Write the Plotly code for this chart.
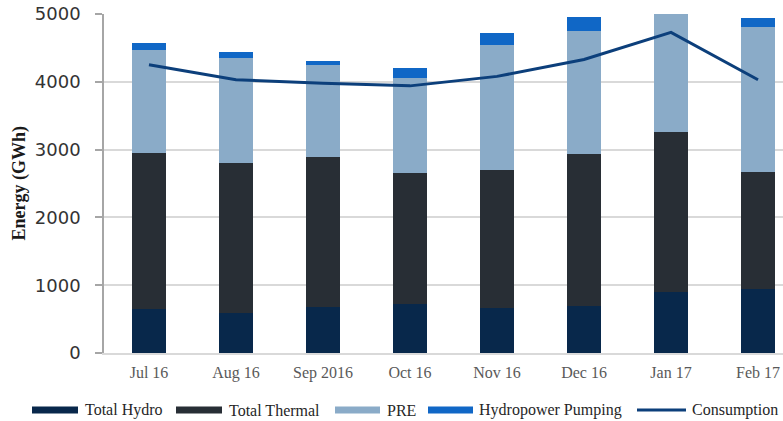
import plotly.graph_objects as go

categories = ["Jul 16", "Aug 16", "Sep 2016", "Oct 16", "Nov 16", "Dec 16", "Jan 17", "Feb 17"]
total_hydro = [650, 590, 680, 720, 660, 690, 900, 945]
total_thermal = [2300, 2210, 2210, 1930, 2040, 2245, 2360, 1725]
pre = [1520, 1550, 1360, 1400, 1840, 1815, 2000, 2140]
hydro_pumping = [100, 90, 50, 160, 180, 205, 150, 130]
consumption = [4250, 4030, 3980, 3940, 4080, 4330, 4730, 4030]
y_ticks = [0, 1000, 2000, 3000, 4000, 5000]

colors = {
    "Total Hydro": "#08284b",
    "Total Thermal": "#282e35",
    "PRE": "#8aabc8",
    "Hydropower Pumping": "#1067c6",
    "Consumption": "#0c3f7b",
}

W, H = 783, 421
ML, MR, MT, MB = 104, 0, 14, 68
PW = W - ML - MR
PH = H - MT - MB

fig = go.Figure()
x = list(range(len(categories)))
for name, vals in [("Total Hydro", total_hydro), ("Total Thermal", total_thermal),
                   ("PRE", pre), ("Hydropower Pumping", hydro_pumping)]:
    fig.add_trace(go.Bar(x=x, y=vals, name=name, width=0.39,
                         marker=dict(color=colors[name], line=dict(width=0)),
                         showlegend=False))
fig.add_trace(go.Scatter(x=x, y=consumption, name="Consumption", mode="lines",
                         line=dict(color=colors["Consumption"], width=3),
                         showlegend=False))

# custom legend
def px2paper_x(px):
    return (px - ML) / PW

def px2paper_y(py):
    return (MT + PH - py) / PH

legend_items = [
    ("Total Hydro", 32, 78, 83, "bar"),
    ("Total Thermal", 176, 222, 227, "bar"),
    ("PRE", 335, 380, 385, "bar"),
    ("Hydropower Pumping", 428, 473, 477, "bar"),
    ("Consumption", 637, 686, 690, "line"),
]
shapes = []
annotations = []
ly = 410
for name, x0, x1, tx, kind in legend_items:
    if kind == "bar":
        shapes.append(dict(type="rect", xref="paper", yref="paper",
                           x0=px2paper_x(x0), x1=px2paper_x(x1),
                           y0=px2paper_y(ly + 3.5), y1=px2paper_y(ly - 3.5),
                           fillcolor=colors[name], line=dict(width=0)))
    else:
        shapes.append(dict(type="line", xref="paper", yref="paper",
                           x0=px2paper_x(x0), x1=px2paper_x(x1),
                           y0=px2paper_y(ly), y1=px2paper_y(ly),
                           line=dict(color=colors[name], width=3)))
    annotations.append(dict(text=name, xref="paper", yref="paper",
                            x=px2paper_x(tx), y=px2paper_y(ly),
                            xanchor="left", yanchor="middle", showarrow=False,
                            font=dict(family="Liberation Serif", size=16, color="#262626")))

annotations.append(dict(text="<b>Energy (GWh)</b>", xref="paper", yref="paper",
                        x=px2paper_x(19), y=0.5, textangle=-90,
                        xanchor="center", yanchor="middle", showarrow=False,
                        font=dict(family="Liberation Serif", size=18, color="#1a1a1a")))

fig.update_layout(
    width=W, height=H,
    margin=dict(l=ML, r=MR, t=MT, b=MB),
    barmode="stack",
    plot_bgcolor="white", paper_bgcolor="white",
    shapes=shapes, annotations=annotations,
    showlegend=False,
    xaxis=dict(
        range=[-0.517, 7.287],
        tickmode="array", tickvals=x, ticktext=categories,
        showgrid=False, zeroline=False,
        showline=True, linecolor="#d9d9d9", linewidth=2,
        ticks="", ticklabelstandoff=4,
        tickfont=dict(family="Liberation Serif", size=16, color="#595959"),
    ),
    yaxis=dict(
        range=[0, 5000],
        tickmode="array", tickvals=y_ticks,
        showgrid=True, gridcolor="#d9d9d9", gridwidth=2,
        zeroline=False,
        showline=True, linecolor="#a6a6a6", linewidth=1.5,
        ticks="outside", ticklen=7, tickcolor="#a6a6a6", tickwidth=1.5,
        ticklabelstandoff=11,
        tickfont=dict(family="DejaVu Sans", size=18, color="#333333"),
    ),
)

fig.write_html("out.html",
               config={"displayModeBar": False},
               post_script="document.body.style.margin='0px';document.body.style.overflow='hidden';")
